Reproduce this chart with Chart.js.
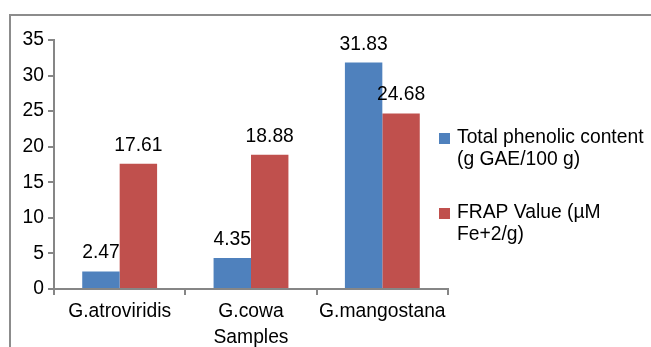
<!DOCTYPE html>
<html>
<head>
<meta charset="utf-8">
<script src="https://cdn.jsdelivr.net/npm/chart.js@4/dist/chart.umd.min.js"></script>
<style>
  html, body { margin: 0; padding: 0; background: #fff; }
  #wrap { position: relative; width: 651px; height: 347px; }
</style>
</head>
<body>
<div id="wrap"><canvas id="c" width="651" height="347"></canvas></div>
<script>
// Sample names along the x axis
const samples = ['G.atroviridis', 'G.cowa', 'G.mangostana'];
// Total phenolic content (g GAE/100 g)
const phenolic = [2.47, 4.35, 31.83];
// FRAP value (µM Fe+2/g)
const frap = [17.61, 18.88, 24.68];
// Legend text, one entry per line
const phenolicLabel = ['Total phenolic content', '(g GAE/100 g)'];
const frapLabel = ['FRAP Value (\u00b5M', 'Fe+2/g)'];
// Y axis range
const yMin = 0, yMax = 35, yStep = 5;

const FONT = '"Liberation Sans", Arial, sans-serif';
const FS = 19.3;
const BLUE = '#4F81BD';
const RED = '#C0504D';
const AXIS = '#868686';

// Frame lines along the top and left edges
const framePlugin = {
  id: 'frame',
  beforeDraw(chart) {
    const ctx = chart.ctx;
    ctx.save();
    ctx.strokeStyle = '#8c8c8c';
    ctx.lineWidth = 2;
    ctx.beginPath();
    ctx.moveTo(10, 347);
    ctx.lineTo(10, 15);
    ctx.lineTo(651, 15);
    ctx.stroke();
    ctx.restore();
  }
};

// Value labels above each bar
const valueLabels = {
  id: 'valueLabels',
  afterDatasetsDraw(chart) {
    const ctx = chart.ctx;
    ctx.save();
    ctx.font = FS + 'px ' + FONT;
    ctx.fillStyle = '#000';
    ctx.textAlign = 'center';
    ctx.textBaseline = 'alphabetic';
    chart.data.datasets.forEach((ds, i) => {
      chart.getDatasetMeta(i).data.forEach((bar, j) => {
        ctx.fillText(ds.data[j].toFixed(2), bar.x, bar.y - 13);
      });
    });
    ctx.restore();
  }
};

// Legend on the right with wrapped labels
const sideLegend = {
  id: 'sideLegend',
  afterDraw(chart) {
    const ctx = chart.ctx;
    const items = [
      { color: BLUE, lines: phenolicLabel, y: 138 },
      { color: RED, lines: frapLabel, y: 213 }
    ];
    ctx.save();
    ctx.font = FS + 'px ' + FONT;
    ctx.textBaseline = 'middle';
    ctx.textAlign = 'left';
    items.forEach(it => {
      ctx.fillStyle = it.color;
      ctx.fillRect(439, it.y - 5, 11, 11);
      ctx.fillStyle = '#000';
      it.lines.forEach((t, k) => ctx.fillText(t, 457, it.y + k * 22));
    });
    ctx.restore();
  }
};

new Chart(document.getElementById('c'), {
  type: 'bar',
  data: {
    labels: samples,
    datasets: [
      { label: phenolicLabel.join(' '), data: phenolic, backgroundColor: BLUE },
      { label: frapLabel.join(' '), data: frap, backgroundColor: RED }
    ]
  },
  options: {
    responsive: false,
    animation: false,
    devicePixelRatio: 1,
    layout: { padding: { left: 0, right: 203, top: 40, bottom: 0 } },
    datasets: { bar: { categoryPercentage: 0.57, barPercentage: 1.0 } },
    plugins: { legend: { display: false }, tooltip: { enabled: false } },
    scales: {
      x: {
        afterFit(s) { s.height = 58; },
        grid: { display: true, drawOnChartArea: false, drawTicks: true, tickLength: 6, color: AXIS, lineWidth: 2, offset: true },
        border: { display: true, color: AXIS, width: 2 },
        ticks: { color: '#000', font: { family: FONT, size: FS }, padding: 5, maxRotation: 0, minRotation: 0, autoSkip: false },
        title: { display: true, text: 'Samples', color: '#000', font: { family: FONT, size: FS }, padding: { top: 0, bottom: -2 } }
      },
      y: {
        min: yMin, max: yMax,
        afterFit(s) { s.width = 54; },
        grid: { display: true, drawOnChartArea: false, drawTicks: true, tickLength: 6, color: AXIS, lineWidth: 2 },
        border: { display: true, color: AXIS, width: 2 },
        ticks: { stepSize: yStep, color: '#000', font: { family: FONT, size: FS }, padding: 4 }
      }
    }
  },
  plugins: [framePlugin, valueLabels, sideLegend]
});
</script>
</body>
</html>
